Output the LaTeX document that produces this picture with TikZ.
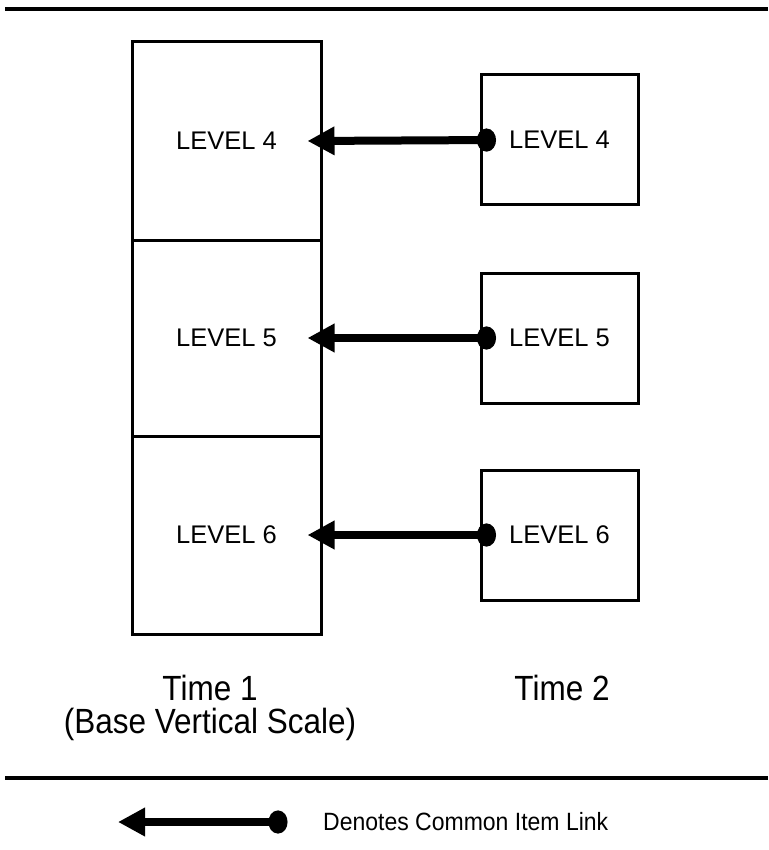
\documentclass[tikz,border=0pt]{standalone}
\usepackage{fontspec}
\setmainfont{Liberation Sans}
\newfontfamily\timefont[FakeStretch=0.9]{Liberation Sans}
\newfontfamily\legfont[FakeStretch=0.92]{Liberation Sans}
\usetikzlibrary{arrows.meta}
\begin{document}
\begin{tikzpicture}[x=1pt,y=-1pt,
  rulebar/.style={line width=4pt},
  colbox/.style={draw,line width=3pt,minimum width=189pt,inner sep=0pt,
    font=\fontsize{25.5}{28}\selectfont},
  timebox/.style={draw,line width=3pt,minimum width=157pt,minimum height=130pt,inner sep=0pt,
    font=\fontsize{25.5}{28}\selectfont},
  link/.style={line width=8pt,{Circle[length=19pt,width=23pt]}-{Triangle[length=27pt,width=27pt]}},
  caption/.style={font=\timefont\fontsize{35}{33}\selectfont,align=center,anchor=base}
]
\fill[white] (0,0) rectangle (768,850);
\useasboundingbox (0,0) rectangle (768,850);

\draw[rulebar] (5,9) -- (768,9);
\draw[rulebar] (5,778) -- (768,778);

% Time 1 column
\node[colbox,minimum height=198pt] (L4) at (226.5,141) {LEVEL 4};
\node[colbox,minimum height=196pt] (L5) at (226.5,338) {LEVEL 5};
\node[colbox,minimum height=198pt] (L6) at (226.5,535) {LEVEL 6};

% Time 2 boxes
\node[timebox] (R4) at (559.5,140) {LEVEL 4};
\node[timebox] (R5) at (559.5,338) {LEVEL 5};
\node[timebox] (R6) at (559.5,535) {LEVEL 6};

\draw[link] ([xshift=16.5pt]R4.west) -- ([xshift=-15pt]L4.east);
\draw[link] ([xshift=16.5pt]R5.west) -- ([xshift=-15pt]L5.east);
\draw[link] ([xshift=16.5pt]R6.west) -- ([xshift=-15pt]L6.east);

\node[caption] (T1) at (210,733) {Time 1\\(Base Vertical Scale)};
\node[caption] (T2) at (562,700) {Time 2};

% legend
\coordinate (lgTip) at (118,822);
\coordinate (lgDot) at (287.5,822);
\draw[link] (lgDot) -- (lgTip);
\node[font=\legfont\fontsize{25}{28}\selectfont,anchor=base west,inner sep=0pt] (lgText) at (323,830) {Denotes Common Item Link};
\end{tikzpicture}
\end{document}
